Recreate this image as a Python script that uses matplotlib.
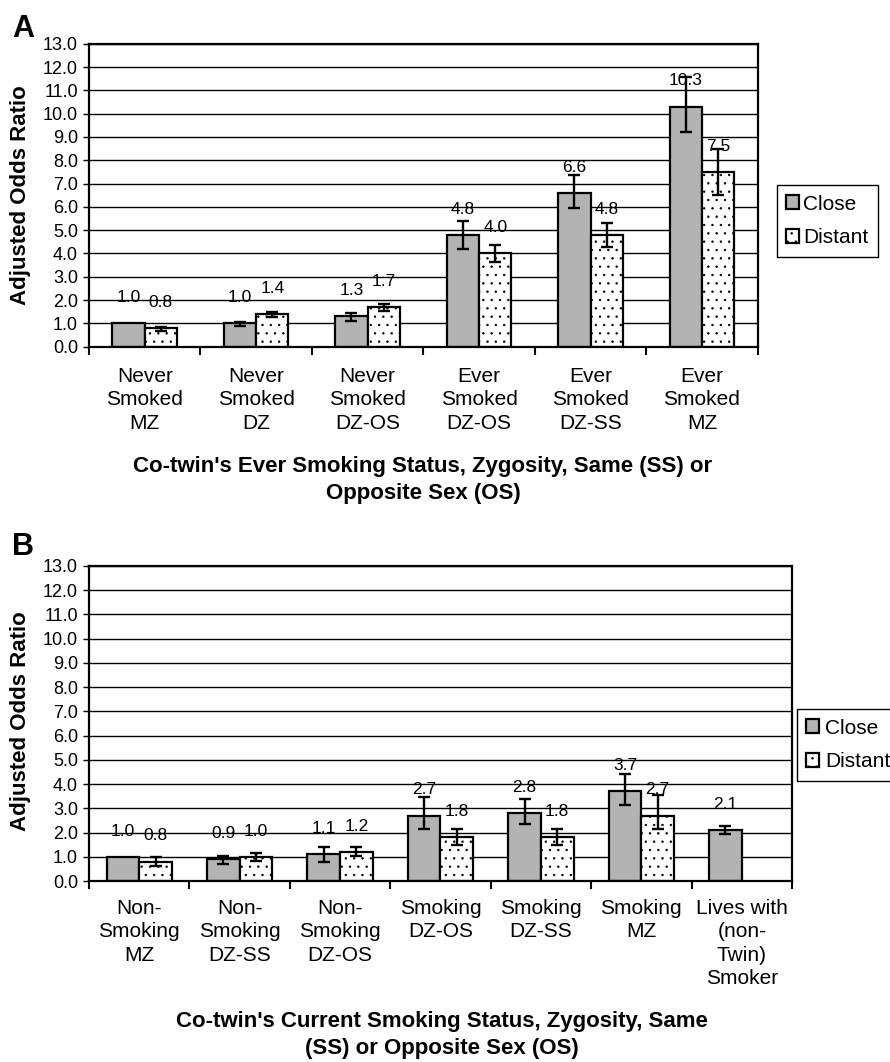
import numpy as np
import matplotlib
matplotlib.use("Agg")
import matplotlib.pyplot as plt

plt.rcParams['font.family'] = ['Liberation Sans', 'DejaVu Sans']
plt.rcParams['hatch.linewidth'] = 0.5

# panel A : ever smoking status
cats_a = ["Never\nSmoked\nMZ", "Never\nSmoked\nDZ", "Never\nSmoked\nDZ-OS",
          "Ever\nSmoked\nDZ-OS", "Ever\nSmoked\nDZ-SS", "Ever\nSmoked\nMZ"]
close_a = [1.0, 1.0, 1.3, 4.8, 6.6, 10.3]
close_a_lo = [np.nan, 0.88, 1.08, 4.2, 5.93, 9.2]
close_a_hi = [np.nan, 1.05, 1.43, 5.4, 7.36, 11.57]
distant_a = [0.8, 1.4, 1.7, 4.0, 4.8, 7.5]
distant_a_lo = [0.66, 1.26, 1.53, 3.64, 4.29, 6.5]
distant_a_hi = [0.86, 1.5, 1.84, 4.34, 5.29, 8.47]

# panel B : current smoking status
cats_b = ["Non-\nSmoking\nMZ", "Non-\nSmoking\nDZ-SS", "Non-\nSmoking\nDZ-OS",
          "Smoking\nDZ-OS", "Smoking\nDZ-SS", "Smoking\nMZ",
          "Lives with\n(non-\nTwin)\nSmoker"]
close_b = [1.0, 0.9, 1.1, 2.7, 2.8, 3.7, 2.1]
close_b_lo = [np.nan, 0.7, 0.8, 2.14, 2.35, 3.13, 1.93]
close_b_hi = [np.nan, 1.04, 1.39, 3.48, 3.4, 4.4, 2.28]
distant_b = [0.8, 1.0, 1.2, 1.8, 1.8, 2.7, np.nan]
distant_b_lo = [0.62, 0.83, 1.04, 1.48, 1.5, 2.14, np.nan]
distant_b_hi = [1.01, 1.17, 1.39, 2.15, 2.15, 3.55, np.nan]

series_names = ["Close", "Distant"]
yticks = np.arange(0, 14, 1.0)

W, H = 890, 1062
fig = plt.figure(figsize=(W / 100, H / 100), dpi=100)


def px_axes(l, t, r, b):
    return fig.add_axes([l / W, 1 - b / H, (r - l) / W, (b - t) / H])


def draw_panel(ax, cats, close, c_lo, c_hi, distant, d_lo, d_hi, width, pad):
    n = len(cats)
    x = np.arange(n)
    close = np.array(close); distant = np.array(distant)
    c_lo = np.array(c_lo); c_hi = np.array(c_hi)
    d_lo = np.array(d_lo); d_hi = np.array(d_hi)

    b1 = ax.bar(x - width / 2, close, width, color='#b3b3b3', edgecolor='black',
                linewidth=1.6, zorder=2, label=series_names[0])
    b2 = ax.bar(x + width / 2, distant, width, color='white', edgecolor='black',
                hatch='..', linewidth=1.6, zorder=2, label=series_names[1])

    # error bars (skip missing ones)
    for xs, v, lo, hi in [(x - width / 2, close, c_lo, c_hi),
                          (x + width / 2, distant, d_lo, d_hi)]:
        m = ~np.isnan(lo)
        ax.errorbar(xs[m], v[m], yerr=[v[m] - lo[m], hi[m] - v[m]], fmt='none',
                    ecolor='black', elinewidth=1.7, capsize=4.4, capthick=1.7, zorder=3)

    # value labels
    for xs, v in [(x - width / 2, close), (x + width / 2, distant)]:
        for xi, vi in zip(xs, v):
            if np.isnan(vi):
                continue
            ax.annotate(f"{vi:.1f}", (xi, vi), xytext=(0, 18.5), textcoords='offset points',
                        ha='center', va='center', fontsize=12.5, zorder=4)

    ax.set_xlim(-0.5, n - 0.5)
    ax.set_ylim(0, 13)
    ax.set_yticks(yticks)
    ax.set_yticklabels([f"{t:.1f}" for t in yticks], fontsize=13)
    ax.yaxis.grid(True, color='black', linewidth=1.0)
    ax.set_axisbelow(True)
    ax.tick_params(axis='y', length=4, width=1, pad=4)

    ax.set_xticks(np.arange(n + 1) - 0.5)
    ax.set_xticklabels([])
    ax.tick_params(axis='x', which='major', length=5.5, width=1.5, direction='out')
    ax.set_xticks(x, minor=True)
    ax.set_xticklabels(cats, minor=True, fontsize=15, linespacing=1.3)
    ax.tick_params(axis='x', which='minor', length=0, pad=pad)

    for s in ax.spines.values():
        s.set_linewidth(1.6)
        s.set_color('black')
    return b1, b2


# ---- Panel A
ax_a = px_axes(89, 43.7, 757.7, 346.6)
h_a = draw_panel(ax_a, cats_a, close_a, close_a_lo, close_a_hi,
                 distant_a, distant_a_lo, distant_a_hi, 0.29, 14.5)
fig.text(12 / W, 1 - 37 / H, "A", fontsize=22, fontweight='bold', ha='left', va='baseline')
fig.text(21 / W, 1 - 195 / H, "Adjusted Odds Ratio", rotation=90, fontsize=16,
         fontweight='bold', ha='center', va='center')
fig.text(423 / W, 1 - 480 / H,
         "Co-twin's Ever Smoking Status, Zygosity, Same (SS) or\nOpposite Sex (OS)",
         fontsize=16, fontweight='bold', ha='center', va='center', linespacing=1.35)
fig.legend(h_a, series_names, loc='center left', bbox_to_anchor=(777 / W, 1 - 221 / H),
           fontsize=15, frameon=True, fancybox=False, edgecolor='black', framealpha=1,
           borderpad=0.45, labelspacing=0.7, handlelength=0.6, handleheight=0.65,
           handletextpad=0.2, borderaxespad=0)

# ---- Panel B
ax_b = px_axes(89, 566, 792, 881)
h_b = draw_panel(ax_b, cats_b, close_b, close_b_lo, close_b_hi,
                 distant_b, distant_b_lo, distant_b_hi, 0.325, 12.7)
fig.text(12 / W, 1 - 555 / H, "B", fontsize=22, fontweight='bold', ha='left', va='baseline')
fig.text(21 / W, 1 - 721 / H, "Adjusted Odds Ratio", rotation=90, fontsize=16,
         fontweight='bold', ha='center', va='center')
fig.text(442 / W, 1 - 1035 / H,
         "Co-twin's Current Smoking Status, Zygosity, Same\n(SS) or Opposite Sex (OS)",
         fontsize=16, fontweight='bold', ha='center', va='center', linespacing=1.35)
fig.legend(h_b, series_names, loc='center left', bbox_to_anchor=(797 / W, 1 - 745 / H),
           fontsize=15, frameon=True, fancybox=False, edgecolor='black', framealpha=1,
           borderpad=0.45, labelspacing=0.7, handlelength=0.6, handleheight=0.65,
           handletextpad=0.3, borderaxespad=0)

fig.savefig("out.png", dpi=100)
